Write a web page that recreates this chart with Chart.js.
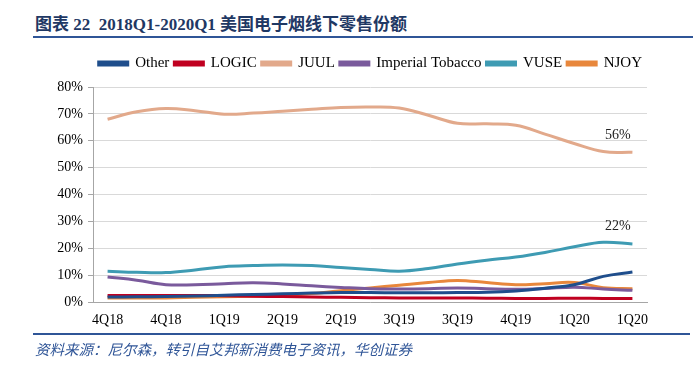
<!DOCTYPE html>
<html>
<head>
<meta charset="utf-8">
<script src="https://cdn.jsdelivr.net/npm/chart.js@4"></script>
<style>
  body { margin: 0; width: 693px; height: 377px; background: #fff; position: relative; overflow: hidden; }
  #title { position: absolute; left: 35px; top: 10px; font: bold 17px "Liberation Serif", "Noto Sans CJK SC", serif; color: #1f3864; white-space: nowrap; }
  #topLine { position: absolute; left: 33px; right: 0; top: 36px; height: 2px; background: #2f5597; }
  #bottomLine { position: absolute; left: 33px; right: 3px; top: 333px; height: 2px; background: #2f5597; }
  #source { position: absolute; left: 35px; top: 338px; font: italic 14.5px "Noto Sans CJK SC", sans-serif; color: #2f5597; white-space: nowrap; }
  #wrap { position: absolute; left: 0; top: 44px; width: 693px; height: 299px; }
</style>
</head>
<body>
<div id="title">图表 22&nbsp; 2018Q1-2020Q1 美国电子烟线下零售份额</div>
<div id="topLine"></div>
<div id="wrap"><canvas id="shareChart"></canvas></div>
<div id="bottomLine"></div>
<div id="source">资料来源：尼尔森，转引自艾邦新消费电子资讯，华创证券</div>
<script>
// x labels (every other point is unlabeled, like the original)
const periods = ['4Q18', '', '4Q18', '', '1Q19', '', '2Q19', '', '2Q19', '', '3Q19', '', '3Q19', '', '4Q19', '', '1Q20', '', '1Q20'];

// market share in %
const otherData    = [1.9, 2.0, 2.1, 2.3, 2.6, 2.9, 3.1, 3.4, 3.6, 3.6, 3.5, 3.5, 3.6, 3.7, 4.2, 5.2, 6.5, 9.6, 11.2];
const logicData    = [2.5, 2.5, 2.5, 2.5, 2.4, 2.2, 2.1, 1.9, 1.8, 1.7, 1.6, 1.6, 1.6, 1.5, 1.4, 1.4, 1.5, 1.4, 1.4];
const juulData     = [68, 70.8, 72, 71.2, 69.9, 70.3, 71, 71.7, 72.4, 72.6, 72.2, 69.5, 66.5, 66.3, 65.8, 62.5, 59, 56, 55.7];
const imperialData = [9.4, 8.2, 6.5, 6.5, 6.9, 7.2, 6.8, 6.1, 5.5, 5.0, 4.9, 5.0, 5.3, 5.0, 4.8, 5.1, 5.6, 4.9, 4.4];
const vuseData     = [11.5, 11.1, 11.0, 12.0, 13.2, 13.6, 13.8, 13.6, 12.9, 12.2, 11.5, 12.5, 14.2, 15.6, 16.8, 18.5, 20.6, 22.3, 21.6];
const njoyData     = [1.6, 1.6, 1.6, 1.8, 2.0, 2.2, 2.5, 3.2, 4.3, 5.3, 6.3, 7.3, 8.1, 7.3, 6.5, 6.9, 7.3, 5.4, 5.0];

// value callouts: [dataset index, point index, text] - placed between this point and the next
const callouts = [[2, 17, '56%'], [4, 17, '22%']];

const serif = '"Liberation Serif", "Times New Roman", serif';

const calloutPlugin = {
    id: 'callouts',
    afterDatasetsDraw(chart) {
        const ctx = chart.ctx;
        ctx.save();
        ctx.font = '14px ' + serif;
        ctx.fillStyle = '#222';
        ctx.textAlign = 'center';
        ctx.textBaseline = 'bottom';
        callouts.forEach(([ds, idx, txt]) => {
            const pts = chart.getDatasetMeta(ds).data;
            const x = (pts[idx].x + pts[idx + 1].x) / 2;
            const y = (pts[idx].y + pts[idx + 1].y) / 2;
            ctx.fillText(txt, x, y - 10);
        });
        ctx.restore();
    }
};

// extra room under the legend
const legendGap = {
    id: 'legendGap',
    beforeInit(chart) {
        const fit = chart.legend.fit;
        chart.legend.fit = function () {
            fit.bind(chart.legend)();
            this.height += 6;
        };
    }
};

function series(label, data, color) {
    return {
        label: label,
        data: data,
        borderColor: color,
        backgroundColor: color,
        borderWidth: 3,
        pointRadius: 0,
        tension: 0.4,
        fill: false
    };
}

const ctx = document.getElementById('shareChart').getContext('2d');
new Chart(ctx, {
    type: 'line',
    data: {
        labels: periods,
        datasets: [
            series('Other', otherData, '#1f4e8c'),
            series('LOGIC', logicData, '#c00020'),
            series('JUUL', juulData, '#e2a98b'),
            series('Imperial Tobacco', imperialData, '#7a5a9c'),
            series('VUSE', vuseData, '#3e9bb3'),
            series('NJOY', njoyData, '#e8873c')
        ]
    },
    options: {
        animation: false,
        responsive: true,
        maintainAspectRatio: false,
        layout: {
            padding: { left: 30, right: 46, top: 7, bottom: 4 }
        },
        plugins: {
            legend: {
                position: 'top',
                align: 'end',
                labels: {
                    boxWidth: 29,
                    boxHeight: 3,
                    padding: 5,
                    color: '#000',
                    font: { family: serif, size: 15 }
                }
            },
            tooltip: { enabled: false }
        },
        scales: {
            x: {
                offset: true,
                grid: { display: false, drawTicks: false },
                border: { display: true, color: '#a6a6a6' },
                ticks: {
                    autoSkip: false,
                    maxRotation: 0,
                    color: '#000',
                    padding: 10,
                    font: { family: serif, size: 14 }
                }
            },
            y: {
                min: 0,
                max: 80,
                afterFit: (scale) => { scale.width = 63; },
                grid: { color: '#d9d9d9', tickLength: 5, tickColor: '#a6a6a6' },
                border: { display: true, color: '#a6a6a6' },
                ticks: {
                    stepSize: 10,
                    color: '#000',
                    padding: 5,
                    font: { family: serif, size: 14 },
                    callback: v => v + '%'
                }
            }
        }
    },
    plugins: [calloutPlugin, legendGap]
});
</script>
</body>
</html>
